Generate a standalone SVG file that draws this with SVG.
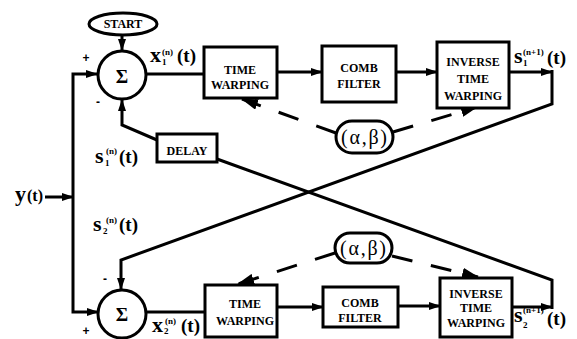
<svg xmlns="http://www.w3.org/2000/svg" width="577" height="339" viewBox="0 0 577 339">
<defs>
<marker id="ah" markerUnits="userSpaceOnUse" markerWidth="12" markerHeight="8" refX="11" refY="4" orient="auto"><path d="M0,0 L12,4 L0,8 z" fill="#000"/></marker>
<marker id="ahd" markerUnits="userSpaceOnUse" markerWidth="17" markerHeight="11" refX="16" refY="5.5" orient="auto"><path d="M0,0 L17,5.5 L0,11 z" fill="#000"/></marker>
</defs>
<style>
.box{fill:#fff;stroke:#000;stroke-width:3}
.t{font-family:"Liberation Serif","Times New Roman",serif;font-weight:bold;font-size:12px;text-anchor:middle;fill:#000}
.w{fill:none;stroke:#000;stroke-width:3}
.d{fill:none;stroke:#000;stroke-width:3;stroke-dasharray:21 19}
.lbl{font-family:"Liberation Serif","Times New Roman",serif;font-weight:bold;font-size:19px;fill:#000}
.big{font-size:22px}
.sm{font-size:9px}
.sig{font-family:"Liberation Serif","Times New Roman",serif;font-weight:bold;font-size:19px;text-anchor:middle}
.ab{font-family:"Liberation Serif","Times New Roman",serif;font-size:20px;text-anchor:middle}
.sign{font-family:"Liberation Sans",Arial,sans-serif;font-weight:bold;font-size:12px;text-anchor:middle}
</style>
<rect width="577" height="339" fill="#fff"/>

<g id="connectors">
  <path class="w" d="M122,35 V50" marker-end="url(#ah)"/>
  <path class="w" d="M45,197 H73" marker-end="url(#ah)"/>
  <path class="w" d="M73,197 V74 H97" marker-end="url(#ah)"/>
  <path class="w" d="M73,197 V312 H98" marker-end="url(#ah)"/>
  <path class="w" d="M146,74 H204"/>
  <path class="w" d="M277,72 H322" marker-end="url(#ah)"/>
  <path class="w" d="M396,72 H437" marker-end="url(#ah)"/>
  <path class="w" d="M509,72 H552" marker-end="url(#ah)"/>
  <path class="w" d="M552,70 V104 L121,260 V289" marker-end="url(#ah)"/>
  <path class="w" d="M146,312 H205"/>
  <path class="w" d="M277,307 H323" marker-end="url(#ah)"/>
  <path class="w" d="M398,306 H440" marker-end="url(#ah)"/>
  <path class="w" d="M512,307 H552" marker-end="url(#ah)"/>
  <path class="w" d="M552,309 V280 L217,159"/>
  <path class="w" d="M157,140 L122,125 V100" marker-end="url(#ah)"/>
  <path class="d" d="M336,133 L242,99" marker-end="url(#ahd)"/>
  <path class="d" d="M393,132 L477,107" marker-end="url(#ahd)"/>
  <path class="d" d="M335,253 L238,284" marker-end="url(#ahd)"/>
  <path class="d" d="M392,256 L478,277" marker-end="url(#ahd)"/>
</g>

<g id="start">
  <ellipse class="box" cx="123" cy="24" rx="34" ry="11"/>
  <text class="t" x="123" y="28">START</text>
</g>
<g id="sum1">
  <circle class="box" cx="122" cy="75" r="24"/>
  <text class="sig" x="122" y="83">Σ</text>
  <text class="sign" x="86" y="62">+</text>
  <text class="sign" x="98" y="106">-</text>
</g>
<g id="tw1">
  <rect class="box" x="204" y="47" width="73" height="51"/>
  <text class="t" x="240" y="74">TIME</text>
  <text class="t" x="240" y="89">WARPING</text>
</g>
<g id="comb1">
  <rect class="box" x="322" y="46" width="74" height="56"/>
  <text class="t" x="359" y="72">COMB</text>
  <text class="t" x="359" y="88">FILTER</text>
</g>
<g id="inv1">
  <rect class="box" x="437" y="42" width="72" height="66"/>
  <text class="t" x="473" y="66">INVERSE</text>
  <text class="t" x="473" y="83">TIME</text>
  <text class="t" x="473" y="100">WARPING</text>
</g>
<g id="ab1">
  <rect class="box" x="336" y="121" width="57" height="32" rx="16"/>
  <text class="ab" x="364" y="144" textLength="46">(α,β)</text>
</g>
<g id="delay">
  <rect class="box" x="157" y="134" width="60" height="28"/>
  <text class="t" x="187" y="155">DELAY</text>
</g>
<g id="sum2">
  <circle class="box" cx="122" cy="314" r="24"/>
  <text class="sig" x="122" y="321">Σ</text>
  <text class="sign" x="105" y="283">-</text>
  <text class="sign" x="86" y="335">+</text>
</g>
<g id="tw2">
  <rect class="box" x="205" y="285" width="72" height="52"/>
  <text class="t" x="245" y="308">TIME</text>
  <text class="t" x="245" y="325">WARPING</text>
</g>
<g id="comb2">
  <rect class="box" x="323" y="287" width="75" height="40"/>
  <text class="t" x="360" y="307">COMB</text>
  <text class="t" x="360" y="322">FILTER</text>
</g>
<g id="inv2">
  <rect class="box" x="440" y="278" width="72" height="59"/>
  <text class="t" x="476" y="298">INVERSE</text>
  <text class="t" x="476" y="312">TIME</text>
  <text class="t" x="476" y="327">WARPING</text>
</g>
<g id="ab2">
  <rect class="box" x="335" y="233" width="57" height="30" rx="15"/>
  <text class="ab" x="363" y="255" textLength="46">(α,β)</text>
</g>

<g id="labels">
  <text class="lbl" x="150" y="62"><tspan class="big">x</tspan><tspan class="sm" x="162" y="65">1</tspan><tspan class="sm" x="162" y="55">(n)</tspan><tspan x="177" y="62">(t)</tspan></text>
  <text class="lbl" x="152" y="332"><tspan class="big">x</tspan><tspan class="sm" x="164" y="334">2</tspan><tspan class="sm" x="165" y="324">(n)</tspan><tspan x="181" y="332">(t)</tspan></text>
  <text class="lbl" x="95" y="163"><tspan class="big">s</tspan><tspan class="sm" x="105" y="166">1</tspan><tspan class="sm" x="106" y="154">(n)</tspan><tspan x="119" y="163">(t)</tspan></text>
  <text class="lbl" x="93" y="231"><tspan class="big">s</tspan><tspan class="sm" x="103" y="234">2</tspan><tspan class="sm" x="106" y="223">(n)</tspan><tspan x="119" y="231">(t)</tspan></text>
  <text class="lbl" x="514" y="63"><tspan class="big">s</tspan><tspan class="sm" x="523" y="66">1</tspan><tspan class="sm" x="523" y="55">(n+1)</tspan><tspan x="547" y="64">(t)</tspan></text>
  <text class="lbl" x="514" y="322"><tspan class="big">s</tspan><tspan class="sm" x="523" y="328">2</tspan><tspan class="sm" x="523" y="313">(n+1)</tspan><tspan x="547" y="325">(t)</tspan></text>
  <text class="lbl" x="15" y="201"><tspan class="big">y</tspan><tspan x="27" y="201" style="font-size:16px">(t)</tspan></text>
</g>
</svg>
